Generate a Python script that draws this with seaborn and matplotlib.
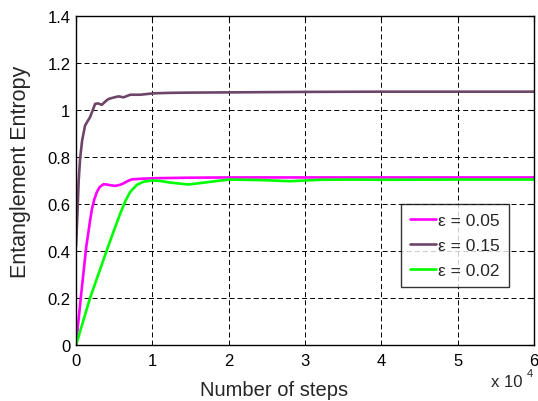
import matplotlib

matplotlib.use("Agg")
import matplotlib.pyplot as plt
import numpy as np
import pandas as pd
import seaborn as sns

# values
steps_015 = [0, 175, 350, 526, 800, 1184, 1623, 1842, 2200, 2500, 2900, 3377,
             3800, 4254, 4800, 5570, 6228, 7105, 8421, 10175, 12368, 15000,
             20000, 30000, 40000, 50000, 60000]
entropy_015 = [0.42, 0.55, 0.70, 0.79, 0.87, 0.934, 0.958, 0.97, 1.00, 1.026,
               1.028, 1.022, 1.035, 1.047, 1.052, 1.058, 1.054, 1.065, 1.065,
               1.071, 1.073, 1.074, 1.075, 1.077, 1.078, 1.078, 1.078]

steps_005 = [0, 620, 1350, 1800, 2061, 2400, 2719, 3100, 3596, 4000, 4474,
             5130, 5800, 6228, 6800, 7325, 8860, 10614, 15000, 20000, 30000,
             40000, 50000, 60000]
entropy_005 = [0.0, 0.2, 0.42, 0.52, 0.575, 0.62, 0.65, 0.672, 0.684, 0.683,
               0.680, 0.677, 0.682, 0.688, 0.698, 0.705, 0.708, 0.710, 0.712,
               0.713, 0.713, 0.713, 0.713, 0.713]

steps_002 = [0, 1842, 4000, 5000, 5800, 6500, 7105, 8000, 8860, 10000, 11000,
             12368, 14737, 17000, 20000, 24000, 28000, 32000, 36000, 40000,
             50000, 60000]
entropy_002 = [0.0, 0.2, 0.4, 0.49, 0.56, 0.615, 0.652, 0.682, 0.695, 0.700,
               0.698, 0.691, 0.683, 0.692, 0.704, 0.702, 0.697, 0.703, 0.704,
               0.703, 0.704, 0.704]

labels = ["ε = 0.05", "ε = 0.15", "ε = 0.02"]
colors = ["#ff00ff", "#6e4568", "#00ff00"]
x_ticks = [0, 1, 2, 3, 4, 5, 6]
y_ticks = [0, 0.2, 0.4, 0.6, 0.8, 1.0, 1.2, 1.4]
y_tick_labels = ["0", "0.2", "0.4", "0.6", "0.8", "1", "1.2", "1.4"]

df = pd.concat([
    pd.DataFrame({"steps": steps_005, "entropy": entropy_005, "eps": labels[0]}),
    pd.DataFrame({"steps": steps_015, "entropy": entropy_015, "eps": labels[1]}),
    pd.DataFrame({"steps": steps_002, "entropy": entropy_002, "eps": labels[2]}),
])

sns.set_style("white")
plt.rcParams["font.family"] = ["Liberation Sans", "DejaVu Sans"]
plt.rcParams["lines.scale_dashes"] = False

fig = plt.figure(figsize=(5.38, 4.02), dpi=100)
ax = fig.add_axes([0.1413, 0.1393, 0.8513, 0.8184])

sns.lineplot(data=df, x="steps", y="entropy", hue="eps", hue_order=labels,
             palette=colors, linewidth=1.9, ax=ax, sort=False)

ax.set_xlim(0, 60000)
ax.set_ylim(0, 1.4)
ax.set_xticks([t * 1e4 for t in x_ticks])
ax.set_xticklabels([str(t) for t in x_ticks])
ax.set_yticks(y_ticks)
ax.set_yticklabels(y_tick_labels)
ax.tick_params(direction="in", length=4, width=0.8, labelsize=12,
               top=True, right=True, colors="black")
ax.tick_params(axis="x", pad=6)
ax.tick_params(axis="y", pad=4)
ax.grid(True, color="black", linestyle=(0, (3.6, 2.2)), linewidth=0.7)
for s in ax.spines.values():
    s.set_color("black")
    s.set_linewidth(1.0)

ax.set_xlabel("Number of steps", fontsize=14.5)
ax.xaxis.set_label_coords(0.432, -0.105)
ax.set_ylabel("Entanglement Entropy", fontsize=15.5)
ax.yaxis.set_label_coords(-0.098, 0.53)

fig.text(491 / 538, 1 - 387 / 402, "x 10", fontsize=12, ha="left",
         va="baseline")
fig.text(527 / 538, 1 - 377 / 402, "4", fontsize=8, ha="left",
         va="baseline")

leg = ax.legend(loc="upper left", bbox_to_anchor=(0.7096, 0.4286),
                fontsize=12.5, frameon=True, fancybox=False,
                handlelength=1.5, handletextpad=0.15, borderpad=0.5,
                labelspacing=0.58, borderaxespad=0)
leg.get_frame().set_edgecolor("black")
leg.get_frame().set_linewidth(1.0)

fig.savefig("out.png", dpi=100, facecolor="white")
